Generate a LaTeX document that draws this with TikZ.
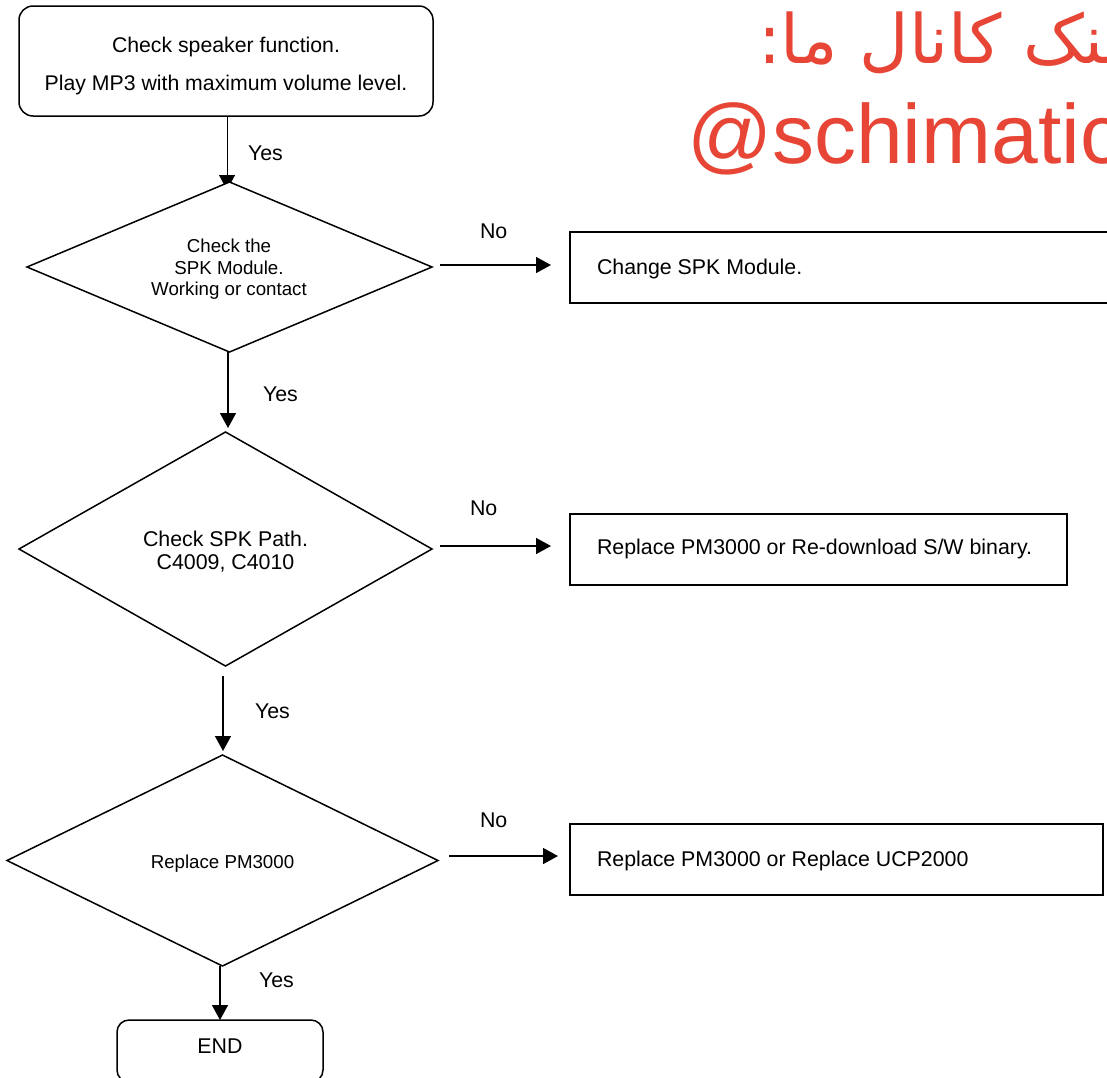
\documentclass[tikz,border=0pt]{standalone}
\usepackage{fontspec}
\setmainfont{Liberation Sans}
\newfontfamily\arabicfont[Script=Arabic]{DejaVu Sans}
\TeXXeTstate=1
\usetikzlibrary{shapes.geometric,arrows.meta,backgrounds}
\definecolor{wm}{HTML}{E74536}
\tikzset{
  every node/.style={inner sep=0pt,outer sep=0pt},
  big/.style={font=\fontsize{21.35}{23}\selectfont,align=center},
  small/.style={font=\fontsize{18.7}{21.5}\selectfont,align=center},
  top/.style={font=\fontsize{21.25}{38}\selectfont,align=center},
  dec/.style={draw,fill=white,shape=diamond},
  rbox/.style={draw,fill=white,rounded corners=14pt},
  pbox/.style={draw,fill=white},
  lab/.style={big,anchor=west},
  conn/.style={-{Triangle[width=16pt,length=15pt]}},
  wmark/.style={text=wm,anchor=base west}
}
\begin{document}
\begin{tikzpicture}[x=1pt,y=-1pt,line width=1.5pt]
\useasboundingbox (0,0) rectangle (1107,1077);
\clip (0,0) rectangle (1107,1077);
\begin{scope}
\clip (600,0) rectangle (1107,178);
\node[wmark,font=\fontsize{68}{80}\selectfont] (wa) at (758,63) {\arabicfont\beginR لینک کانال ما:\endR};
\node[wmark,font=\fontsize{84}{100}\selectfont] (wb) at (687,163) {@schimatic};
\end{scope}
\node[rbox,minimum width=414pt,minimum height=110pt] (start) at (226,61) {};
\node[top] (st) at (226,66) {Check speaker function.\\Play MP3 with maximum volume level.};
\node[dec,minimum width=405pt,minimum height=170pt] (d1) at (229.5,267) {};
\node[small] (d1t) at (229,269.5) {Check the\\SPK Module.\\Working or contact};
\node[dec,minimum width=413pt,minimum height=234pt] (d2) at (225.5,549) {};
\node[big] (d2t) at (225.5,551.5) {Check SPK Path.\\C4009, C4010};
\node[dec,minimum width=431pt,minimum height=211pt] (d3) at (222.5,860.5) {};
\node[small] (d3t) at (222.5,864) {Replace PM3000};
\node[pbox,minimum width=560pt,minimum height=71pt] (b1) at (850,267.5) {};
\node[pbox,minimum width=497pt,minimum height=71pt] (b2) at (818.5,549.5) {};
\node[pbox,minimum width=533pt,minimum height=71pt] (b3) at (836.5,859.5) {};
\node[big,anchor=west] (t1) at (597,269) {Change SPK Module.};
\node[big,anchor=west] (t2) at (597,549) {Replace PM3000 or Re-download S/W binary.};
\node[big,anchor=west] (t3) at (597,861) {Replace PM3000 or Replace UCP2000};
\node[rbox,rounded corners=12pt,minimum width=206pt,minimum height=62pt] (e) at (220,1051) {};
\node[big] (et) at (220,1046) {END};
\begin{scope}[on background layer]
\draw[conn,shorten >=-8pt] ([shift={(1,0)}]start.south) -- ([shift={(-2.5,0)}]d1.north);
\end{scope}
\draw[conn] ([shift={(-1.5,0)}]d1.south) -- ([shift={(2.5,-4)}]d2.north);
\draw[conn] ([shift={(-2.5,10)}]d2.south) -- ([shift={(0.5,-4)}]d3.north);
\draw[conn] ([shift={(-2.5,0)}]d3.south) -- (e.north);
\draw[conn] ([shift={(8,-2)}]d1.east) -- ([shift={(-19,-2.5)}]b1.west);
\draw[conn] ([shift={(8,-3)}]d2.east) -- ([shift={(-19,-3.5)}]b2.west);
\draw[conn] ([shift={(11,-4.5)}]d3.east) -- ([shift={(-12,-3.5)}]b3.west);
\node[lab] (y1) at (248,153) {Yes};
\node[lab] (n1) at (480,231) {No};
\node[lab] (y2) at (263,394) {Yes};
\node[lab] (n2) at (470,508) {No};
\node[lab] (y3) at (255,711) {Yes};
\node[lab] (n3) at (480,820) {No};
\node[lab] (y4) at (259,980) {Yes};
\end{tikzpicture}
\end{document}
